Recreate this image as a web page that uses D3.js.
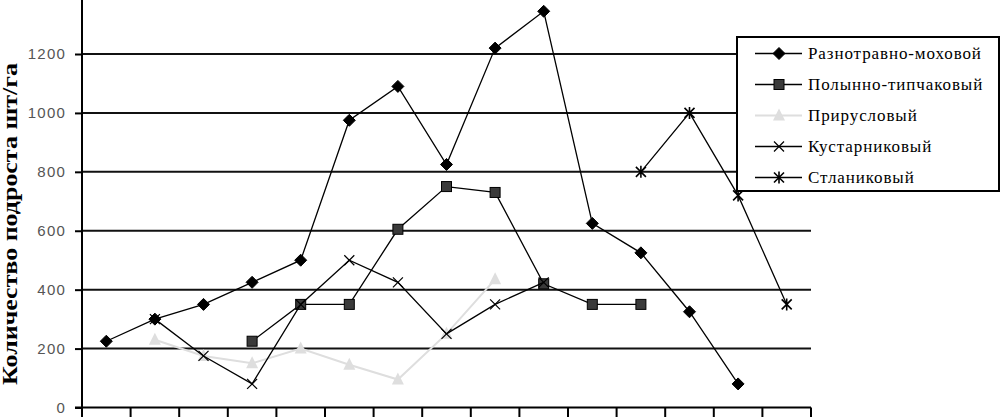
<!DOCTYPE html>
<html>
<head>
<meta charset="utf-8">
<script src="https://cdn.jsdelivr.net/npm/d3@7"></script>
<style>
  body { margin: 0; background: #fff; }
  svg { display: block; }
</style>
</head>
<body>
<svg id="chart" width="1001" height="417"></svg>
<script>
// categories along x (labels fall below the visible area)
var categories = [1, 2, 3, 4, 5, 6, 7, 8, 9, 10, 11, 12, 13, 14, 15];
var yTicks = [0, 200, 400, 600, 800, 1000, 1200, 1400];

var seriesNames = ["Разнотравно-моховой", "Полынно-типчаковый", "Прирусловый", "Кустарниковый", "Стланиковый"];
var raznotravno = [225, 300, 350, 425, 500, 975, 1090, 825, 1220, 1345, 625, 525, 325, 80, null];
var polynno     = [null, null, null, 225, 350, 350, 605, 750, 730, 420, 350, 350, null, null, null];
var priruslovy  = [null, 230, 175, 150, 200, 145, 95, 250, 435, null, null, null, null, null, null];
var kustarnik   = [null, 300, 175, 80, 350, 500, 425, 250, 350, 425, null, null, null, null, null];
var stlanik     = [null, null, null, null, null, null, null, null, null, null, null, 800, 1000, 720, 350];

var svg = d3.select("#chart");
var left = 82, right = 811, bottom = 407.5;

var x = d3.scaleBand().domain(categories).range([left, right]);
var y = d3.scaleLinear().domain([0, 1400]).range([bottom, bottom - 1400 * 0.29458]);

// gridlines
svg.append("g")
  .selectAll("line")
  .data(yTicks.filter(function(d) { return d > 0; }))
  .enter().append("line")
  .attr("x1", left).attr("x2", right)
  .attr("y1", function(d) { return y(d); })
  .attr("y2", function(d) { return y(d); })
  .attr("stroke", "#111").attr("stroke-width", 2);

// y axis
var yAxis = svg.append("g")
  .attr("transform", "translate(" + left + ",0)")
  .call(d3.axisLeft(y).tickValues(yTicks).tickSize(7).tickPadding(9).tickFormat(d3.format("d")));
yAxis.select(".domain").attr("stroke", "#000").attr("stroke-width", 2).attr("d", "M0,-10V" + bottom);
yAxis.selectAll(".tick line").attr("stroke", "#000").attr("stroke-width", 2);
yAxis.selectAll(".tick text")
  .attr("font-family", "'Liberation Sans', Arial, sans-serif")
  .attr("font-size", 15).attr("fill", "#555")
  .attr("letter-spacing", 1.2);

// x axis: base line and ticks between categories
svg.append("line")
  .attr("x1", left - 7).attr("x2", right)
  .attr("y1", bottom).attr("y2", bottom)
  .attr("stroke", "#000").attr("stroke-width", 2);
var bounds = categories.map(function(c) { return x(c); }).concat([x(categories[categories.length - 1]) + x.bandwidth()]);
svg.append("g").selectAll("line")
  .data(bounds)
  .enter().append("line")
  .attr("x1", function(d) { return d; }).attr("x2", function(d) { return d; })
  .attr("y1", bottom).attr("y2", bottom + 10)
  .attr("stroke", "#000").attr("stroke-width", 2);

// y title
svg.append("text")
  .attr("transform", "translate(17,224) rotate(-90)")
  .attr("text-anchor", "middle")
  .attr("font-family", "'Liberation Serif', 'Times New Roman', serif")
  .attr("font-weight", "bold")
  .attr("font-size", 20)
  .attr("textLength", 322)
  .attr("lengthAdjust", "spacingAndGlyphs")
  .text("Количество подроста шт/га");

var cx = function(i) { return x(categories[i]) + x.bandwidth() / 2; };

var series = [
  { name: seriesNames[0], values: raznotravno, stroke: "#000", marker: "diamond", fill: "#000" },
  { name: seriesNames[1], values: polynno, stroke: "#000", marker: "square", fill: "#3a3a3a" },
  { name: seriesNames[2], values: priruslovy, stroke: "#dedede", marker: "triangle", fill: "#dedede" },
  { name: seriesNames[3], values: kustarnik, stroke: "#000", marker: "x", fill: "none" },
  { name: seriesNames[4], values: stlanik, stroke: "#000", marker: "star", fill: "none" }
];

function drawMarker(g, type, px, py, s) {
  if (type === "diamond") {
    g.append("path").attr("d", "M" + px + "," + (py - 6) + "L" + (px + 6) + "," + py + "L" + px + "," + (py + 6) + "L" + (px - 6) + "," + py + "Z")
      .attr("fill", s.fill).attr("stroke", "#000").attr("stroke-width", 1);
  } else if (type === "square") {
    g.append("rect").attr("x", px - 5).attr("y", py - 5).attr("width", 10).attr("height", 10)
      .attr("fill", s.fill).attr("stroke", "#000").attr("stroke-width", 1);
  } else if (type === "triangle") {
    g.append("path").attr("d", "M" + px + "," + (py - 7) + "L" + (px + 6) + "," + (py + 5) + "L" + (px - 6) + "," + (py + 5) + "Z")
      .attr("fill", s.fill);
  } else if (type === "x") {
    g.append("path").attr("d", "M" + (px - 5) + "," + (py - 5) + "L" + (px + 5) + "," + (py + 5) + "M" + (px + 5) + "," + (py - 5) + "L" + (px - 5) + "," + (py + 5))
      .attr("stroke", "#000").attr("stroke-width", 1.2);
  } else if (type === "star") {
    g.append("path").attr("d", "M" + (px - 5) + "," + (py - 5) + "L" + (px + 5) + "," + (py + 5) + "M" + (px + 5) + "," + (py - 5) + "L" + (px - 5) + "," + (py + 5) + "M" + px + "," + (py - 6) + "L" + px + "," + (py + 6))
      .attr("stroke", "#000").attr("stroke-width", 1.6);
  }
}

var line = d3.line()
  .defined(function(d) { return d != null; })
  .x(function(d, i) { return cx(i); })
  .y(function(d) { return y(d); });

series.forEach(function(s) {
  var g = svg.append("g");
  g.append("path")
    .datum(s.values)
    .attr("d", line)
    .attr("fill", "none")
    .attr("stroke", s.stroke)
    .attr("stroke-width", s.marker === "triangle" ? 2 : 1.3);
  s.values.forEach(function(v, i) {
    if (v != null) drawMarker(g, s.marker, cx(i), y(v), s);
  });
});

// legend
var lg = svg.append("g");
lg.append("rect").attr("x", 737).attr("y", 37).attr("width", 262).attr("height", 154)
  .attr("fill", "#fff").attr("stroke", "#000").attr("stroke-width", 2);
series.forEach(function(s, i) {
  var ly = 53.5 + i * 31;
  lg.append("line").attr("x1", 755).attr("x2", 802).attr("y1", ly).attr("y2", ly)
    .attr("stroke", s.stroke).attr("stroke-width", s.marker === "triangle" ? 2 : 1.3);
  drawMarker(lg, s.marker, 779, ly, s);
  lg.append("text").attr("x", 808).attr("y", ly + 5)
    .attr("font-family", "'Liberation Serif', 'Times New Roman', serif")
    .attr("font-size", 17)
    .attr("letter-spacing", 0.9)
    .attr("fill", "#000")
    .text(s.name);
});
</script>
</body>
</html>
